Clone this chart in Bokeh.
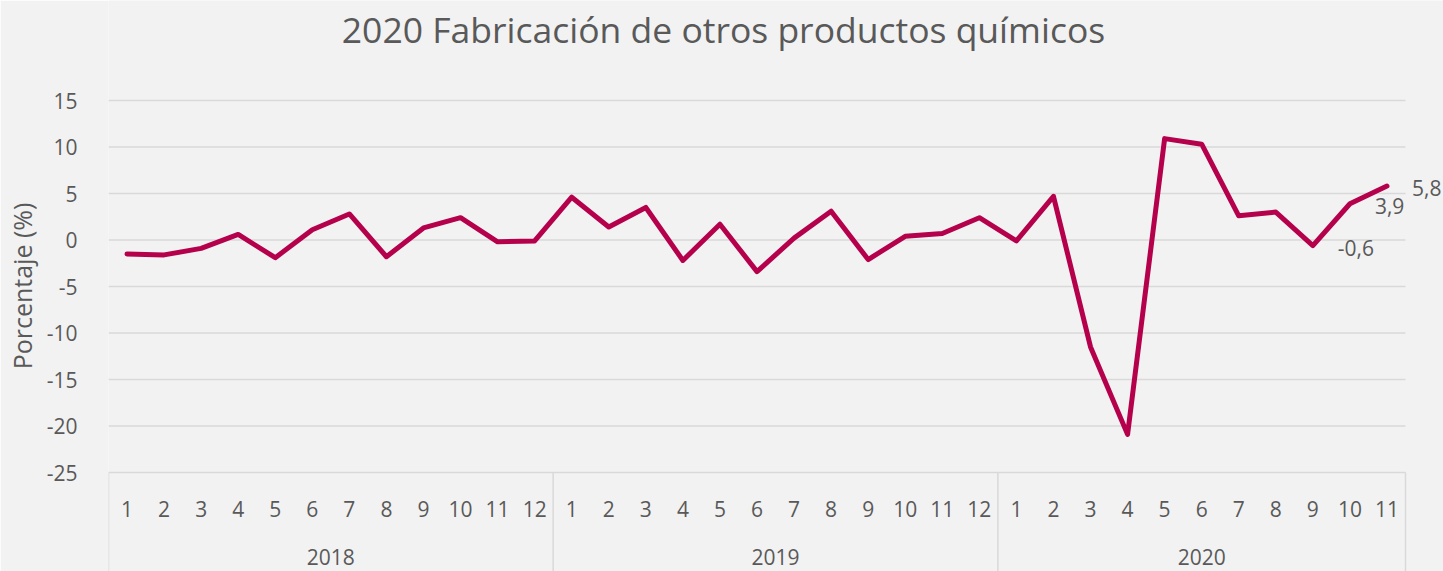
from bokeh.plotting import figure
from bokeh.models import Range1d, FixedTicker, ColumnDataSource
from bokeh.core.properties import value
from bokeh.embed import file_html
from bokeh.resources import INLINE

# ---------------- data ----------------
title_text = "2020 Fabricación de otros productos químicos"
y_label = "Porcentaje (%)"
years = ["2018", "2019", "2020"]
months_per_year = [12, 12, 11]
values_2018 = [-1.5, -1.6, -0.9, 0.6, -1.9, 1.1, 2.8, -1.8, 1.3, 2.4, -0.2, -0.1]
values_2019 = [4.6, 1.4, 3.5, -2.2, 1.7, -3.4, 0.2, 3.1, -2.1, 0.4, 0.7, 2.4]
values_2020 = [-0.1, 4.7, -11.5, -20.9, 10.9, 10.3, 2.6, 3.0, -0.6, 3.9, 5.8]
y_ticks = [-25, -20, -15, -10, -5, 0, 5, 10, 15]
labelled_months_2020 = [9, 10, 11]

# ---------------- styling / layout ----------------
FONT = "Open Sans"
TXT = "#595959"
GRID = "#D9D9D9"
LINE = "#B5004B"
BG = "#F2F2F2"

W, H = 1443, 571
LEFT = 108                      # figure px of plot-area left edge
PLOT_W = 1297                   # plot-area width in px
TOP_PX = 100                    # pixel row of the top gridline
PX_PER_UNIT = 372 / 40.0

values = values_2018 + values_2019 + values_2020
n = len(values)
CAT_W = PLOT_W / n
xs = [i + 0.5 for i in range(n)]
months = []
for cnt in months_per_year:
    months += [str(m) for m in range(1, cnt + 1)]

y_top = y_ticks[-1] + TOP_PX / PX_PER_UNIT
y_bot = y_top - H / PX_PER_UNIT
x_end = (W - LEFT) / CAT_W

def py(px):
    """pixel row (from figure top) -> data y"""
    return y_top - px / PX_PER_UNIT

def pxx(px):
    """figure pixel column -> data x"""
    return (px - LEFT) / CAT_W

p = figure(width=W, height=H, x_range=Range1d(0, x_end), y_range=Range1d(y_bot, y_top),
           output_backend="svg", toolbar_location=None, x_axis_location=None,
           min_border_left=LEFT, min_border_right=0, min_border_top=0, min_border_bottom=0,
           background_fill_color=BG, border_fill_color=BG, outline_line_color=None)
p.title.visible = False

# y axis
yax = p.yaxis[0]
yax.ticker = FixedTicker(ticks=y_ticks)
yax.major_label_overrides = {t: str(t) for t in y_ticks}
yax.axis_line_color = None
yax.major_tick_line_color = None
yax.minor_tick_line_color = None
yax.major_tick_out = 0
yax.major_tick_in = 0
yax.major_label_standoff = 31
yax.major_label_text_font = FONT
yax.major_label_text_font_size = "21px"
yax.major_label_text_color = TXT
yax.axis_label = y_label
yax.axis_label_text_font = FONT
yax.axis_label_text_font_size = "25px"
yax.axis_label_text_font_style = "normal"
yax.axis_label_text_color = TXT
yax.axis_label_standoff = 5

p.xgrid.visible = False
p.ygrid.visible = False

# horizontal gridlines limited to the plot area
p.segment(x0=[0] * len(y_ticks), x1=[n] * len(y_ticks), y0=y_ticks, y1=y_ticks,
          line_color=GRID, line_width=1.5)

# category separators below the plot area
bounds = [0]
for cnt in months_per_year:
    bounds.append(bounds[-1] + cnt)
p.segment(x0=bounds, x1=bounds, y0=[y_ticks[0]] * len(bounds), y1=[y_bot] * len(bounds),
          line_color=GRID, line_width=1.5)

# month labels
p.text(x=xs, y=[py(508)] * n, text=months, text_font=value(FONT), text_font_size="21px",
       text_color=TXT, text_align="center", text_baseline="middle")

# year labels
ycent = [(bounds[i] + bounds[i + 1]) / 2 for i in range(len(years))]
p.text(x=ycent, y=[py(556)] * len(years), text=years, text_font=value(FONT), text_font_size="21px",
       text_color=TXT, text_align="center", text_baseline="middle")

# title
p.text(x=[pxx(723)], y=[py(28)], text=[title_text], text_font=value(FONT), text_font_size="35.5px",
       text_color=TXT, text_align="center", text_baseline="middle")

# series
src = ColumnDataSource(dict(x=xs, y=values))
p.line("x", "y", source=src, line_color=LINE, line_width=5, line_join="round", line_cap="round")

# data labels
off = bounds[2]
lx = [xs[off + m - 1] for m in labelled_months_2020]
lv = [values[off + m - 1] for m in labelled_months_2020]
lt = [f"{v:.1f}".replace(".", ",") for v in lv]
p.text(x=lx, y=lv, text=lt, text_font=value(FONT), text_font_size="21px", text_color=TXT,
       text_align="left", text_baseline="middle", x_offset=25, y_offset=2)

open("out.html", "w").write(file_html(p, INLINE))
